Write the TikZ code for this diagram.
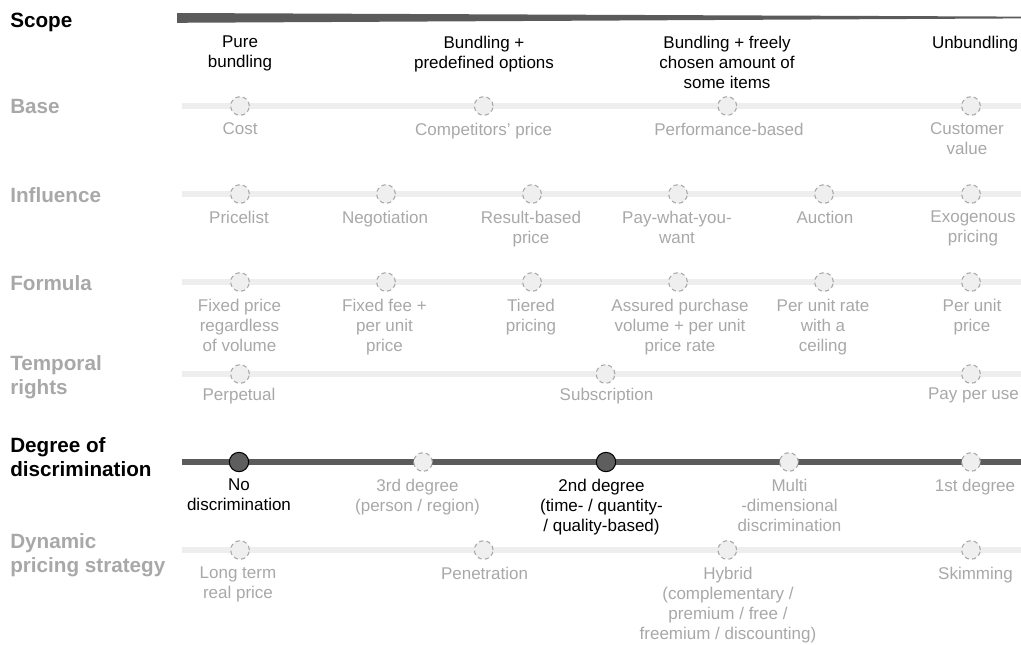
\documentclass[tikz,border=0pt]{standalone}
\usepackage{fontspec}
\setmainfont{Liberation Sans}
\definecolor{trackgray}{HTML}{EEEEEE}
\definecolor{trackdark}{HTML}{5B5B5B}
\definecolor{dotfill}{HTML}{EFEFEF}
\definecolor{dotline}{HTML}{A8A8A8}
\definecolor{dotdark}{HTML}{5E5E5E}
\definecolor{txtgray}{HTML}{A8A8A8}
\begin{document}
\begin{tikzpicture}[x=0.75pt,y=-0.75pt,
  track/.style={line width=3.9pt, draw=trackgray},
  darktrack/.style={line width=4.1pt, draw=trackdark},
  openpt/.style={circle, inner sep=0pt, minimum size=14pt, fill=dotfill,
    draw=dotline, line width=0.8pt, dash pattern=on 3.2pt off 2.4pt},
  fullpt/.style={circle, inner sep=0pt, minimum size=14.5pt, fill=dotdark,
    draw=black, line width=0.8pt},
  lbl/.style={anchor=north, inner sep=0pt, align=center,
    font=\fontsize{12.75}{15}\selectfont, text=txtgray},
  lblk/.style={lbl, text=black},
  head/.style={anchor=north west, inner sep=0pt, align=left,
    font=\fontsize{15.5}{18.4}\selectfont\bfseries, text=txtgray},
  headk/.style={head, text=black}]
\useasboundingbox (0,0) rectangle (1021,644);

% ---- Scope: tapering bar and bundling options
\node[headk] (hscope) at (10,13) {Scope};
\fill[trackdark] (177,13) -- (1021,16.6) -- (1021,18.4) -- (177,22.8) -- cycle;
\node[lblk] (s1) at (240,35.5) {Pure\\bundling};
\node[lblk] (s2) at (484,35.5) {Bundling +\\predefined options};
\node[lblk] (s3) at (727,35.5) {Bundling + freely\\chosen amount of\\some items};
\node[lblk] (s4) at (975,35.5) {Unbundling};

% ---- Base
\node[head] (hbase) at (10,99) {Base};
\coordinate (b0) at (182,106); \coordinate (b9) at (1021,106);
\draw[track] (b0) -- (b9);
\node[openpt] (b1) at (240,106) {};
\node[openpt] (b2) at (483.7,106) {};
\node[openpt] (b3) at (727.3,106) {};
\node[openpt] (b4) at (971,106) {};
\node[lbl] (b1t) at (240,122.5) {Cost};
\node[lbl] (b2t) at (483.7,122.5) {Competitors' price};
\node[lbl] (b3t) at (729,122.5) {Performance-based};
\node[lbl] (b4t) at (967,122.5) {Customer\\value};

% ---- Influence
\node[head] (hinf) at (10,187) {Influence};
\coordinate (i0) at (182,194); \coordinate (i9) at (1021,194);
\draw[track] (i0) -- (i9);
\node[openpt] (i1) at (240,194) {};
\node[openpt] (i2) at (386,194) {};
\node[openpt] (i3) at (532,194) {};
\node[openpt] (i4) at (678,194) {};
\node[openpt] (i5) at (824,194) {};
\node[openpt] (i6) at (971,194) {};
\node[lbl] (i1t) at (239,210.5) {Pricelist};
\node[lbl] (i2t) at (385,210.5) {Negotiation};
\node[lbl] (i3t) at (531,210.5) {Result-based\\price};
\node[lbl] (i4t) at (677,210.5) {Pay-what-you-\\want};
\node[lbl] (i5t) at (825,210.5) {Auction};
\node[lbl] (i6t) at (973,210.5) {Exogenous\\pricing};

% ---- Formula
\node[head] (hform) at (10,275) {Formula};
\coordinate (f0) at (182,282); \coordinate (f9) at (1021,282);
\draw[track] (f0) -- (f9);
\node[openpt] (f1) at (240,282) {};
\node[openpt] (f2) at (386,282) {};
\node[openpt] (f3) at (532,282) {};
\node[openpt] (f4) at (678,282) {};
\node[openpt] (f5) at (824,282) {};
\node[openpt] (f6) at (971,282) {};
\node[lbl] (f1t) at (239.5,298.5) {Fixed price\\regardless\\of volume};
\node[lbl] (f2t) at (384.5,298.5) {Fixed fee +\\per unit\\price};
\node[lbl] (f3t) at (531,298.5) {Tiered\\pricing};
\node[lbl] (f4t) at (680,298.5) {Assured purchase\\volume + per unit\\price rate};
\node[lbl] (f5t) at (823,298.5) {Per unit rate\\with a\\ceiling};
\node[lbl] (f6t) at (972,298.5) {Per unit\\price};

% ---- Temporal rights
\node[head] (htemp) at (10,355) {Temporal\\rights};
\coordinate (t0) at (182,374); \coordinate (t9) at (1021,374);
\draw[track] (t0) -- (t9);
\node[openpt] (t1) at (240,374) {};
\node[openpt] (t2) at (605.5,374) {};
\node[openpt] (t3) at (971,374) {};
\node[lbl] (t1t) at (239,388) {Perpetual};
\node[lbl] (t2t) at (606.5,388) {Subscription};
\node[lbl] (t3t) at (973.5,388) {Pay per use};

% ---- Degree of discrimination
\node[headk] (hdeg) at (10,437) {Degree of\\discrimination};
\coordinate (d0) at (182,462); \coordinate (d9) at (1021,462);
\draw[darktrack] (d0) -- (d9);
\node[fullpt] (d1) at (239,462) {};
\node[openpt] (d2) at (423,462) {};
\node[fullpt] (d3) at (606,462) {};
\node[openpt] (d4) at (789,462) {};
\node[openpt] (d5) at (971,462) {};
\node[lblk] (d1t) at (239,478.5) {No\\discrimination};
\node[lbl] (d2t) at (417.5,478.5) {3rd degree\\(person / region)};
\node[lblk] (d3t) at (601.5,478.5) {2nd degree\\(time- / quantity-\\/ quality-based)};
\node[lbl] (d4t) at (789.5,478.5) {Multi\\-dimensional\\discrimination};
\node[lbl] (d5t) at (975,478.5) {1st degree};

% ---- Dynamic pricing strategy
\node[head] (hdyn) at (10,533) {Dynamic\\pricing strategy};
\coordinate (y0) at (182,550); \coordinate (y9) at (1021,550);
\draw[track] (y0) -- (y9);
\node[openpt] (y1) at (240,550) {};
\node[openpt] (y2) at (483.7,550) {};
\node[openpt] (y3) at (727.3,550) {};
\node[openpt] (y4) at (971,550) {};
\node[lbl] (y1t) at (238,566.5) {Long term\\real price};
\node[lbl] (y2t) at (484.5,566.5) {Penetration};
\node[lbl] (y3t) at (728,566.5) {Hybrid\\(complementary /\\premium / free /\\freemium / discounting)};
\node[lbl] (y4t) at (975.5,566.5) {Skimming};
\end{tikzpicture}
\end{document}
